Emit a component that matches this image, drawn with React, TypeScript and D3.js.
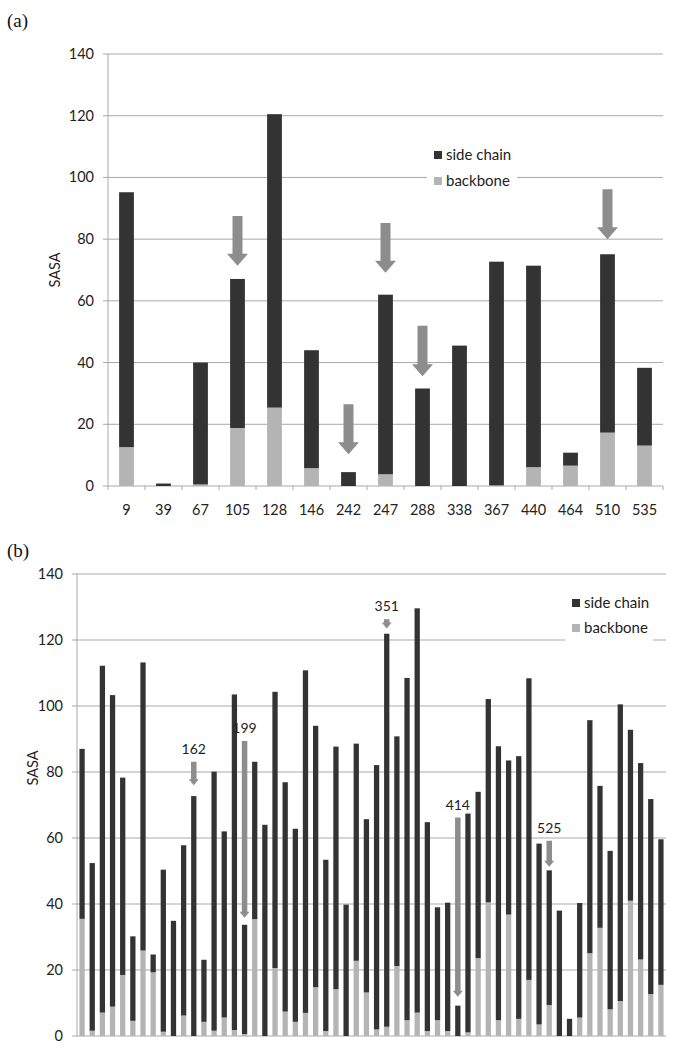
import React from "react";
import * as d3 from "d3";

// ---------- Panel (a) data ----------
const residuesA = ["9", "39", "67", "105", "128", "146", "242", "247", "288", "338", "367", "440", "464", "510", "535"];
const backboneA = [12.6, 0, 0.5, 18.8, 25.4, 5.8, 0, 3.8, 0, 0, 0.2, 6.1, 6.6, 17.3, 13.1];
const sideChainA = [82.6, 0.8, 39.5, 48.3, 95.1, 38.2, 4.5, 58.2, 31.6, 45.5, 72.5, 65.3, 4.2, 57.8, 25.2];
// arrows in panel (a): residue, start value, tip value
const arrowResA = ["105", "242", "247", "288", "510"];
const arrowFromA = [87.5, 26.5, 85.2, 51.9, 96.2];
const arrowToA = [71.4, 10.3, 69.1, 35.6, 80.0];

// ---------- Panel (b) data ----------
const totalB = [
  87.0, 52.4, 112.2, 103.3, 78.3, 30.2, 113.2, 24.7, 50.4, 34.9,
  57.8, 72.7, 23.1, 80.1, 62.0, 103.5, 33.7, 83.1, 64.0, 104.3,
  76.9, 62.8, 110.8, 94.0, 53.4, 87.7, 39.8, 88.6, 65.7, 82.1,
  121.9, 90.8, 108.5, 129.6, 64.8, 39.0, 40.4, 9.2, 67.4, 74.0,
  102.1, 87.8, 83.5, 84.8, 108.4, 58.3, 50.2, 38.0, 5.2, 40.3,
  95.7, 75.8, 56.1, 100.5, 92.8, 82.7, 71.8, 59.6,
];
const backboneB = [
  35.5, 1.6, 7.1, 8.9, 18.5, 4.6, 25.9, 19.3, 1.3, 0,
  6.2, 0, 4.3, 1.6, 5.6, 1.8, 0.6, 35.4, 0, 20.6,
  7.4, 4.3, 7.0, 14.8, 1.5, 14.2, 0, 22.8, 13.2, 2.0,
  2.8, 21.2, 4.8, 7.1, 1.5, 4.8, 1.5, 0, 1.1, 23.6,
  40.5, 4.8, 36.8, 5.2, 17.0, 3.5, 9.4, 0, 0, 5.6,
  25.1, 32.8, 8.1, 10.6, 41.0, 23.2, 12.7, 15.5,
];
const sideChainB = totalB.map((t, i) => Math.max(0, +(t - backboneB[i]).toFixed(1)));
const indexB = totalB.map((_, i) => String(i));
// labelled arrows in panel (b)
const arrowLabelB = ["162", "199", "351", "414", "525"];
const arrowBarB = [11, 16, 30, 37, 46];
const arrowFromB = [83.1, 89.4, 126.3, 66.2, 59.2];
const arrowToB = [76.0, 35.8, 123.5, 11.9, 51.3];

const yTicks = [0, 20, 40, 60, 80, 100, 120, 140];
const legendItems = ["side chain", "backbone"];

const DARK = "#333333";
const LIGHT = "#b4b4b4";
const ARROW = "#8d8d8d";
const GRID = "#a9a9a9";
const FONT = "Lato, 'Open Sans', sans-serif";

function arrowPath(cx: number, yTop: number, yTip: number, sw: number, hw: number, hh: number) {
  const p = d3.path();
  p.moveTo(cx - sw / 2, yTop);
  p.lineTo(cx + sw / 2, yTop);
  p.lineTo(cx + sw / 2, yTip - hh);
  p.lineTo(cx + hw / 2, yTip - hh);
  p.lineTo(cx, yTip);
  p.lineTo(cx - hw / 2, yTip - hh);
  p.lineTo(cx - sw / 2, yTip - hh);
  p.closePath();
  return p.toString();
}

function PanelA() {
  const left = 108, right = 663, top = 54, bottom = 486;
  const x = d3.scaleBand<string>().domain(residuesA).range([left, right]).paddingInner(0.6).paddingOuter(0.3);
  const y = d3.scaleLinear().domain([0, 140]).range([bottom, top]);
  const step = x.step();
  return (
    <g>
      <text x={7} y={27} fontFamily="'Liberation Serif', 'Times New Roman', serif" fontSize={19} fill="#111">(a)</text>
      {yTicks.map((t) => (
        <g key={t}>
          <line x1={left - 5} x2={right} y1={y(t)} y2={y(t)} stroke={GRID} strokeWidth={1} />
          <text x={94} y={y(t) + 5} textAnchor="end" fontFamily={FONT} fontSize={14.5} fill="#222">{t}</text>
        </g>
      ))}
      <line x1={left} x2={left} y1={top} y2={bottom + 4} stroke={GRID} strokeWidth={1} />
      {residuesA.map((r, i) => (
        <line key={"tk" + r} x1={left + step * (i + 1)} x2={left + step * (i + 1)} y1={bottom} y2={bottom + 4} stroke={GRID} />
      ))}
      {residuesA.map((r, i) => (
        <g key={r}>
          <rect x={x(r)} width={x.bandwidth()} y={y(backboneA[i])} height={y(0) - y(backboneA[i])} fill={LIGHT} />
          <rect x={x(r)} width={x.bandwidth()} y={y(backboneA[i] + sideChainA[i])} height={y(backboneA[i]) - y(backboneA[i] + sideChainA[i])} fill={DARK} />
          <text x={(x(r) as number) + x.bandwidth() / 2} y={515} textAnchor="middle" fontFamily={FONT} fontSize={14.5} fill="#222">{r}</text>
        </g>
      ))}
      {arrowResA.map((r, i) => (
        <path key={"ar" + r} d={arrowPath((x(r) as number) + x.bandwidth() / 2, y(arrowFromA[i]), y(arrowToA[i]), 10, 21, 12)} fill={ARROW} />
      ))}
      <text transform={`translate(60,${270}) rotate(-90)`} textAnchor="middle" fontFamily={FONT} fontSize={14.5} fill="#222">SASA</text>
      <rect x={427} y={143} width={90} height={50} fill="#fff" />
      {legendItems.map((l, i) => (
        <g key={l}>
          <rect x={434} y={151 + i * 26} width={8} height={8} fill={i === 0 ? DARK : LIGHT} />
          <text x={446} y={160 + i * 26} fontFamily={FONT} fontSize={15} fill="#222">{l}</text>
        </g>
      ))}
    </g>
  );
}

function PanelB() {
  const left = 77, right = 666, top = 574, bottom = 1036;
  const x = d3.scaleBand<string>().domain(indexB).range([left, right]).paddingInner(0.48).paddingOuter(0.24);
  const y = d3.scaleLinear().domain([0, 140]).range([bottom, top]);
  return (
    <g>
      <text x={7} y={557} fontFamily="'Liberation Serif', 'Times New Roman', serif" fontSize={19} fill="#111">(b)</text>
      {yTicks.map((t) => (
        <g key={t}>
          <line x1={left - 5} x2={right} y1={y(t)} y2={y(t)} stroke={GRID} strokeWidth={1} />
          <text x={63} y={y(t) + 5} textAnchor="end" fontFamily={FONT} fontSize={14.5} fill="#222">{t}</text>
        </g>
      ))}
      <line x1={left} x2={left} y1={top} y2={bottom} stroke={GRID} strokeWidth={1} />
      {indexB.map((k, i) => (
        <g key={k}>
          <rect x={x(k)} width={x.bandwidth()} y={y(backboneB[i])} height={y(0) - y(backboneB[i])} fill={LIGHT} />
          <rect x={x(k)} width={x.bandwidth()} y={y(backboneB[i] + sideChainB[i])} height={y(backboneB[i]) - y(backboneB[i] + sideChainB[i])} fill={DARK} />
        </g>
      ))}
      {arrowLabelB.map((lab, i) => {
        const cx = (x(indexB[arrowBarB[i]]) as number) + x.bandwidth() / 2;
        const yt = y(arrowFromB[i]);
        return (
          <g key={lab}>
            <path d={arrowPath(cx, yt, y(arrowToB[i]), 5.5, 10, 6)} fill={ARROW} />
            <text x={cx} y={yt - 8} textAnchor="middle" fontFamily={FONT} fontSize={14} fill="#222">{lab}</text>
          </g>
        );
      })}
      <text transform={`translate(38,${768}) rotate(-90)`} textAnchor="middle" fontFamily={FONT} fontSize={14.5} fill="#222">SASA</text>
      <rect x={565} y={590} width={88} height={54} fill="#fff" />
      {legendItems.map((l, i) => (
        <g key={l}>
          <rect x={572} y={599 + i * 25} width={8} height={8} fill={i === 0 ? DARK : LIGHT} />
          <text x={584} y={608 + i * 25} fontFamily={FONT} fontSize={15} fill="#222">{l}</text>
        </g>
      ))}
    </g>
  );
}

export default function App() {
  return (
    <svg width={674} height={1050} style={{ position: "absolute", left: 0, top: 0, background: "#fff" }}>
      <rect width={674} height={1050} fill="#fff" />
      <PanelA />
      <PanelB />
    </svg>
  );
}
